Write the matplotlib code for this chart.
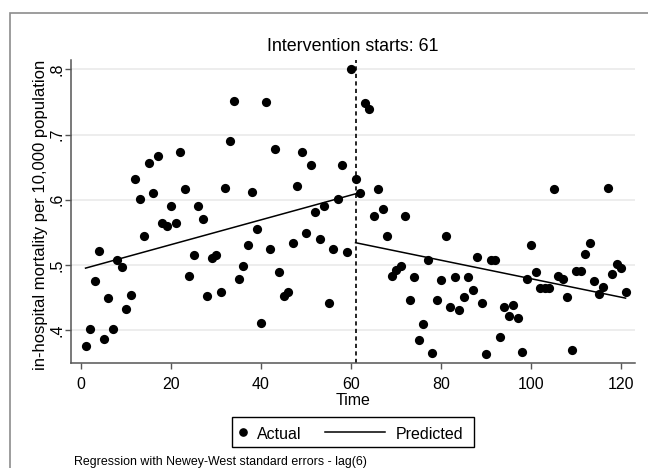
"""
Interrupted time series plot: in-hospital mortality, intervention at t=61
"""

import matplotlib
matplotlib.use("Agg")
import matplotlib.pyplot as plt
from matplotlib.patches import Rectangle
from matplotlib.lines import Line2D

plt.rcParams["font.family"] = ["Liberation Sans", "DejaVu Sans"]

# observed monthly values, t = 1..121
time = list(range(1, 122))
actual = [
    0.375, 0.402, 0.475, 0.521, 0.386, 0.449, 0.402, 0.507, 0.496, 0.433,
    0.454, 0.632, 0.601, 0.544, 0.657, 0.611, 0.667, 0.565, 0.560, 0.590,
    0.565, 0.673, 0.617, 0.483, 0.515, 0.591, 0.571, 0.453, 0.510, 0.515,
    0.458, 0.618, 0.690, 0.751, 0.479, 0.498, 0.530, 0.612, 0.555, 0.411,
    0.750, 0.525, 0.678, 0.489, 0.453, 0.458, 0.534, 0.621, 0.673, 0.549,
    0.653, 0.581, 0.539, 0.591, 0.441, 0.524, 0.601, 0.653, 0.519, 0.801,
    0.632, 0.611, 0.749, 0.739, 0.575, 0.616, 0.585, 0.545, 0.483, 0.492,
    0.498, 0.575, 0.446, 0.482, 0.385, 0.410, 0.508, 0.365, 0.446, 0.477,
    0.544, 0.436, 0.482, 0.431, 0.451, 0.482, 0.461, 0.512, 0.441, 0.364,
    0.508, 0.508, 0.389, 0.436, 0.421, 0.438, 0.418, 0.366, 0.479, 0.530,
    0.489, 0.464, 0.464, 0.464, 0.616, 0.483, 0.479, 0.451, 0.370, 0.491,
    0.491, 0.517, 0.533, 0.476, 0.456, 0.466, 0.618, 0.486, 0.501, 0.495,
    0.459,
]

# fitted segments (Newey-West regression)
pre_t = [1, 61]
pre_pred = [0.495, 0.609]
post_t = [61, 121]
post_pred = [0.534, 0.449]

TRPERIOD = 61
xticks = [0, 20, 40, 60, 80, 100, 120]
yticks = [0.4, 0.5, 0.6, 0.7, 0.8]
ytick_labels = [".4", ".5", ".6", ".7", ".8"]

W, H = 648, 468
FS = 11.5
fig = plt.figure(figsize=(W / 100, H / 100), dpi=100)

# outer graph region border
fig.patches.append(Rectangle((9.5 / W, -0.1), 1.2, 1.1 - 12.7 / H,
                             transform=fig.transFigure, fill=False,
                             edgecolor="#8c8c8c", lw=1.2))

ax_l, ax_r, ax_t, ax_b = 70.7, 635, 60, 363.3
ax = fig.add_axes([ax_l / W, 1 - ax_b / H, (ax_r - ax_l) / W, (ax_b - ax_t) / H])
ax.set_xlim(-2.3, 123.1)
ax.set_ylim(0.349, 0.8143)

for y in yticks:
    ax.axhline(y, color="#eaeaea", lw=1.2, zorder=0)

ax.scatter(time, actual, s=44, color="black", linewidths=0, zorder=3)
ax.plot(pre_t, pre_pred, color="black", lw=1.1, zorder=2)
ax.plot(post_t, post_pred, color="black", lw=1.1, zorder=2)
ax.axvline(TRPERIOD, color="black", lw=1.2, ls=(0, (2.5, 2)), zorder=2)

for side in ["top", "right"]:
    ax.spines[side].set_visible(False)
for side in ["left", "bottom"]:
    ax.spines[side].set_color("#555555")
    ax.spines[side].set_linewidth(1.1)

ax.set_xticks(xticks)
ax.set_yticks(yticks)
ax.set_yticklabels(ytick_labels)
ax.tick_params(axis="both", length=4.5, width=1, color="#555555", labelsize=FS)
ax.tick_params(axis="x", pad=5.5)
ax.tick_params(axis="y", pad=2.3)
plt.setp(ax.get_yticklabels(), rotation=90, rotation_mode="anchor",
         ha="center", va="baseline")

ax.set_xlabel("Time", fontsize=FS)
ax.xaxis.set_label_coords(0.5, -0.098)
ax.set_ylabel("in-hospital mortality per 10,000 population", fontsize=12)
ax.yaxis.set_label_coords((48.5 - ax_l) / (ax_r - ax_l), 0.49)

fig.text(352.7 / W, 1 - 51 / H, "Intervention starts: " + str(TRPERIOD),
         fontsize=12.9, ha="center", va="baseline")

# legend box drawn in figure pixels
fig.patches.append(Rectangle((232.3 / W, 1 - 447.3 / H), 242 / W, 30 / H,
                             transform=fig.transFigure, fill=False,
                             edgecolor="black", lw=1.0))
fig.lines.append(Line2D([242.7 / W], [1 - 432.3 / H], marker="o", ls="none",
                        color="black", markersize=5.2,
                        transform=fig.transFigure))
fig.text(256.7 / W, 1 - 439 / H, "Actual", fontsize=FS, va="baseline")
fig.lines.append(Line2D([325 / W, 385 / W], [1 - 432.3 / H] * 2,
                        color="black", lw=1.1, transform=fig.transFigure))
fig.text(395.7 / W, 1 - 439 / H, "Predicted", fontsize=FS, va="baseline")

fig.text(74 / W, 1 - 461.7 / H,
         "Regression with Newey-West standard errors - lag(6)",
         fontsize=8.9, va="center", ha="left")

fig.savefig("out.png", dpi=100)
